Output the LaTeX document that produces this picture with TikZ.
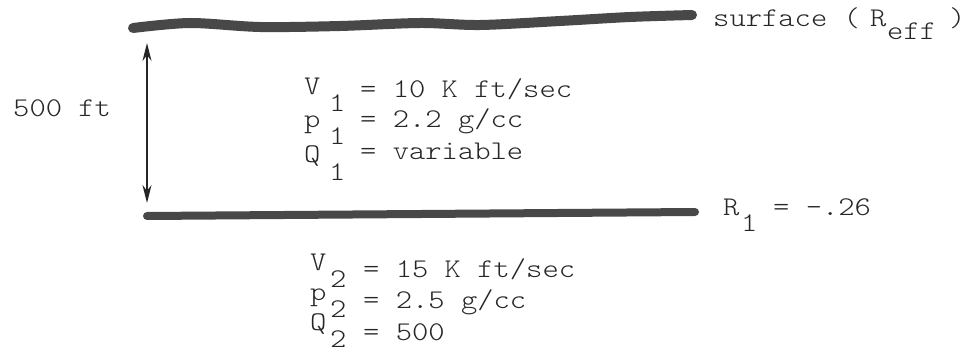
\documentclass[tikz,border=0pt]{standalone}
\usepackage{fontspec}
\usetikzlibrary{arrows.meta,positioning}
\newfontfamily\typewriter[FakeStretch=1.15]{lmmonolt10-regular.otf}
\definecolor{layergray}{RGB}{72,72,72}
\tikzset{
    typed/.style={font=\typewriter\fontsize{27}{27}\selectfont, anchor=base west, inner sep=0pt, text=black!85},
    layer/.style={line width=8pt, layergray, line cap=round},
    depthline/.style={line width=1.8pt, black!85, {Stealth[length=18pt,width=9pt]}-{Stealth[length=18pt,width=9pt]}},
}

\begin{document}
\begin{tikzpicture}[x=1pt, y=-1pt]
    \useasboundingbox (0,0) rectangle (968,358);

    % Surface
    \draw[layer, line width=10pt] plot[smooth] coordinates {(133,28) (190,23) (260,27) (340,26) (420,23) (480,25) (560,21) (630,17) (692,15)};
    \coordinate (surfL) at (147,43);
    \node[typed] (surf) at (713,27) {surface (};
    \node[typed] (Reff) at (870,27) {R};
    \node[typed] (effsub) at (887,40) {eff};
    \node[typed] (close) at (949,27) {)};

    % Interface
    \draw[layer] (147,216) -- (695,212);
    \coordinate (intL) at (147,203);
    \node[typed] (R1) at (723,215) {R};
    \node[typed] (R1sub) at (741,231) {1};
    \node[typed] (R1val) at (773,215) {= -.26};

    % Thickness
    \draw[depthline] (surfL) -- (intL);
    \node[typed] (thick) at (13,117) {500 ft};

    % Layer 1
    \foreach \sym/\val/\y/\d [count=\i] in {V/{10 K ft/sec}/95/3, p/{2.2 g/cc}/128/0, Q/{variable}/163/-3} {
        \node[typed] (symA\i) at (304,\y) {\sym};
        \node[typed] (subA\i) at (329,\y+17) {1};
        \node[typed] (valA\i) at (360,\y+\d) {= \val};
    }

    % Layer 2
    \foreach \sym/\val/\y/\d [count=\i] in {V/{15 K ft/sec}/270/7, p/{2.5 g/cc}/300/8, Q/{500}/330/10} {
        \node[typed] (symB\i) at (310,\y) {\sym};
        \node[typed] (subB\i) at (330,\y+17) {2};
        \node[typed] (valB\i) at (363,\y+\d) {= \val};
    }
\end{tikzpicture}
\end{document}
